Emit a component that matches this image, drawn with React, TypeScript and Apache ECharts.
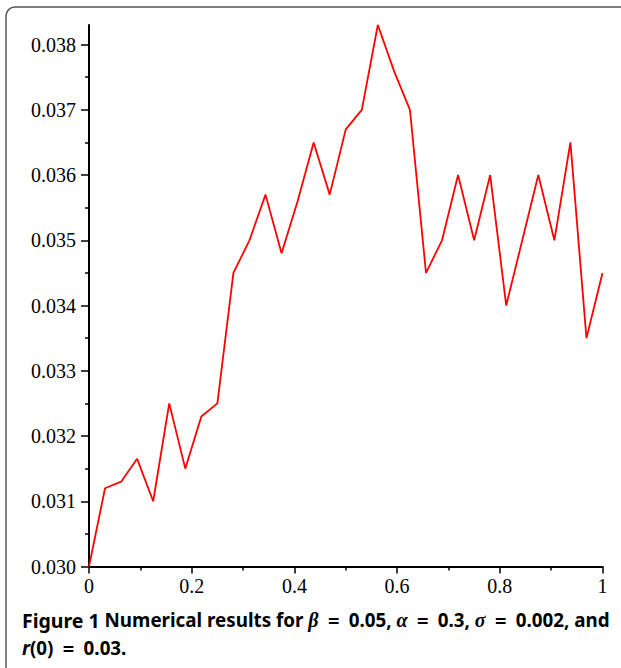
import React, { useEffect, useRef } from "react";
import * as echarts from "echarts";

const tValues = [
  0, 0.03125, 0.0625, 0.09375, 0.125, 0.15625, 0.1875, 0.21875, 0.25, 0.28125,
  0.3125, 0.34375, 0.375, 0.40625, 0.4375, 0.46875, 0.5, 0.53125, 0.5625,
  0.59375, 0.625, 0.65625, 0.6875, 0.71875, 0.75, 0.78125, 0.8125, 0.84375,
  0.875, 0.90625, 0.9375, 0.96875, 1,
];
const rValues = [
  0.03, 0.0312, 0.0313, 0.03165, 0.031, 0.0325, 0.0315, 0.0323, 0.0325, 0.0345,
  0.035, 0.0357, 0.0348, 0.0356, 0.0365, 0.0357, 0.0367, 0.037, 0.0383, 0.0376,
  0.037, 0.0345, 0.035, 0.036, 0.035, 0.036, 0.034, 0.035, 0.036, 0.035,
  0.0365, 0.0335, 0.0345,
];
const yMajorTicks = [0.03, 0.031, 0.032, 0.033, 0.034, 0.035, 0.036, 0.037, 0.038];
const yMinorTicks = [0.0305, 0.0315, 0.0325, 0.0335, 0.0345, 0.0355, 0.0365, 0.0375];
const yMin = 0.03;
const yMax = 0.0383;

export default function App() {
  const ref = useRef<HTMLDivElement>(null);
  useEffect(() => {
    if (!ref.current) return;
    const chart = echarts.init(ref.current, null, { renderer: "svg" });
    const serif = "Liberation Serif";
    const sans2 = "Noto Sans";
    const sp = "\u2002";
    const eq = (v: string) => "{n|" + sp + "}{e|=}{n|" + sp + v + "}";
    const fs = 18.8;
    chart.setOption({
      animation: false,
      backgroundColor: "#fff",
      grid: { left: 89, right: 18.5, top: 25, bottom: 101.5, containLabel: false },
      xAxis: {
        type: "value",
        min: 0,
        max: 1,
        interval: 0.2,
        splitLine: { show: false },
        axisLine: { show: true, lineStyle: { color: "#000", width: 2 } },
        axisTick: { show: true, length: 7, lineStyle: { color: "#000", width: 1.5 } },
        minorTick: { show: true, splitNumber: 2, length: 4, lineStyle: { color: "#000", width: 1.5 } },
        axisLabel: { color: "#000", fontFamily: serif, fontSize: 20, margin: 9 },
      },
      yAxis: [
        {
          type: "value",
          min: yMin,
          max: yMax,
          splitLine: { show: false },
          axisLine: { show: true, lineStyle: { color: "#000", width: 2 } },
          axisTick: { show: true, length: 8, customValues: yMajorTicks, lineStyle: { color: "#000", width: 1.5 } },
          axisLabel: {
            customValues: yMajorTicks,
            color: "#000",
            fontFamily: serif,
            fontSize: 20,
            margin: 13,
            formatter: (v: number) => v.toFixed(3),
          },
        },
        {
          type: "value",
          min: yMin,
          max: yMax,
          position: "left",
          offset: 0,
          splitLine: { show: false },
          axisLine: { show: false },
          axisTick: { show: true, length: 4, customValues: yMinorTicks, lineStyle: { color: "#000", width: 1.5 } },
          axisLabel: { show: false },
        },
      ],
      series: [
        {
          type: "line",
          yAxisIndex: 0,
          data: tValues.map((t, i) => [t, rValues[i]]),
          showSymbol: false,
          symbol: "none",
          lineStyle: { color: "#ff0000", width: 1.8 },
        },
      ],
      graphic: [
        {
          type: "rect",
          shape: { x: 6, y: 7, width: 700, height: 720, r: 9 },
          style: { fill: "none", stroke: "#555", lineWidth: 1.5 },
          silent: true,
        },
        {
          type: "text",
          x: 22,
          y: 610,
          style: {
            text:
              "{b|Figure 1}{n| Numerical results for }{m|β}" + eq("0.05, ") + "{m|α}" + eq("0.3, ") + "{m|σ}" + eq("0.002, and"),
            verticalAlign: "top",
            rich: {
              b: { fontFamily: sans2, fontWeight: "bold", fontSize: 19.5, fill: "#000", color: "#000" },
              n: { fontFamily: sans2, fontWeight: "bold", fontSize: fs, fill: "#000", color: "#000" },
              e: { fontFamily: sans2, fontWeight: "bold", fontSize: 20, fill: "#000", color: "#000" },
              m: { fontFamily: serif, fontStyle: "italic", fontWeight: "bold", fontSize: 20, fill: "#000", color: "#000" },
            },
          },
        },
        {
          type: "text",
          x: 22,
          y: 638,
          style: {
            text: "{m|r}{n|(0)}" + eq("0.03."),
            verticalAlign: "top",
            rich: {
              n: { fontFamily: sans2, fontWeight: "bold", fontSize: fs, fill: "#000", color: "#000" },
              e: { fontFamily: sans2, fontWeight: "bold", fontSize: 20, fill: "#000", color: "#000" },
              m: { fontFamily: sans2, fontStyle: "italic", fontWeight: "bold", fontSize: fs, fill: "#000", color: "#000" },
            },
          },
        },
      ],
    });
    return () => chart.dispose();
  }, []);
  return (
    <div
      ref={ref}
      style={{ position: "absolute", left: 0, top: 0, width: 621, height: 668, background: "#fff" }}
    />
  );
}
